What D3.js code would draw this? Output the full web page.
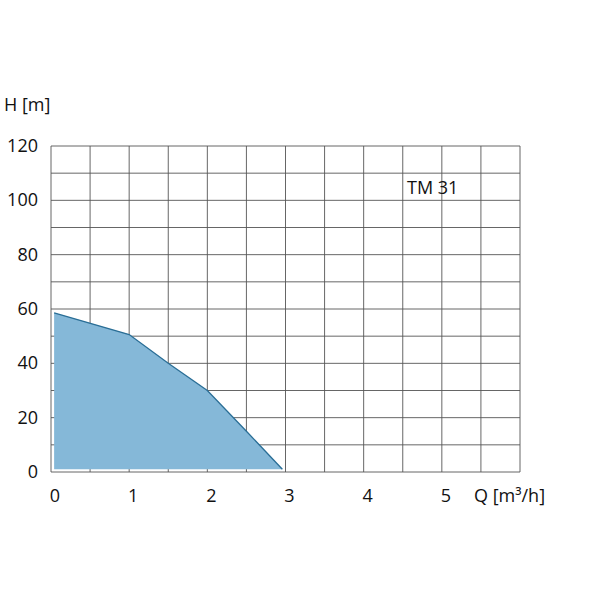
<!DOCTYPE html><html><head><meta charset="utf-8"><script src="https://cdn.jsdelivr.net/npm/d3@7"></script>
<style>body{margin:0;background:#fff}text{font-family:"Open Sans","DejaVu Sans",sans-serif;fill:#111}</style></head><body><svg id="c" width="600" height="600"></svg><script>
const flowQ=[0.04,1,1.5,2,2.5,2.96];
const headH=[58.6,50.6,40,30,15,1];
const baseH=1;
const xTicks=[0,1,2,3,4,5];
const yTicks=[0,20,40,60,80,100,120];
const svg=d3.select("#c");
const x=d3.scaleLinear().domain([0,6]).range([51,520]);
const y=d3.scaleLinear().domain([0,120]).range([472,146]);
const g=svg.append("g");
d3.range(0,6.01,0.5).forEach(v=>g.append("line").attr("x1",x(v)).attr("x2",x(v)).attr("y1",y(0)).attr("y2",y(120)).attr("stroke","#555").attr("stroke-width",0.9));
d3.range(0,121,10).forEach(v=>g.append("line").attr("x1",x(0)).attr("x2",x(6)).attr("y1",y(v)).attr("y2",y(v)).attr("stroke","#555").attr("stroke-width",0.9));
const pts=flowQ.map((q,i)=>[q,headH[i]]);
svg.append("path").datum(pts).attr("d",d3.area().x(d=>x(d[0])).y0(y(baseH)).y1(d=>y(d[1]))).attr("fill","#85b8d8");
svg.append("path").datum(pts).attr("d",d3.line().x(d=>x(d[0])).y(d=>y(d[1]))).attr("fill","none").attr("stroke","#2a6e96").attr("stroke-width",1.3);
yTicks.forEach(v=>svg.append("text").attr("x",38).attr("y",y(v)+6).attr("text-anchor","end").attr("font-size",18).text(v));
xTicks.forEach(v=>svg.append("text").attr("x",x(v)+4).attr("y",502).attr("text-anchor","middle").attr("font-size",18).text(v));
svg.append("text").attr("x",4).attr("y",111).attr("font-size",18).text("H [m]");
svg.append("text").attr("x",474).attr("y",502).attr("font-size",18).text("Q [m³/h]");
svg.append("text").attr("x",407).attr("y",194).attr("font-size",18).text("TM 31");
</script></body></html>
